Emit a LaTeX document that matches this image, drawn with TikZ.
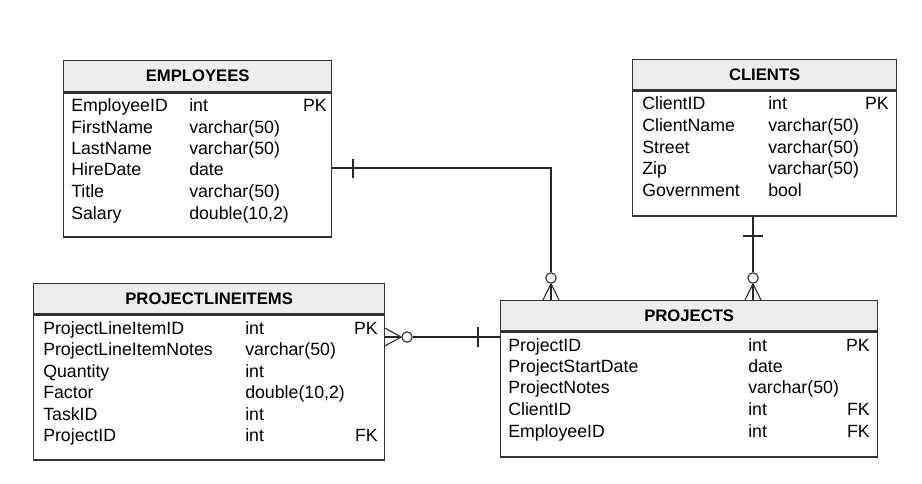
\documentclass[tikz,border=0pt]{standalone}
\usepackage{fontspec}
\setmainfont{Liberation Sans}
\usetikzlibrary{positioning}
\begin{document}
\begin{tikzpicture}[x=0.75pt,y=-0.75pt,
    tabhead/.style={draw=black!80,line width=1pt,fill=black!7,anchor=north west,inner sep=0pt,
      font=\fontsize{12.5}{14}\selectfont\bfseries},
    tabbody/.style={draw=black!80,line width=1pt,fill=white,inner sep=0pt},
    field/.style={anchor=west,inner sep=0pt,text height=9.3pt,text depth=0pt,
      font=\fontsize{13.3}{15}\selectfont},
    key/.style={field,anchor=east},
    rel/.style={line width=0.8pt,black!85},
    zero/.style={circle,draw,line width=0.8pt,black!85,fill=white,minimum size=7.8pt,inner sep=0pt}]
  \useasboundingbox (0,0) rectangle (922,483);

  \node[tabhead,minimum width=201pt,minimum height=23.25pt] (emphead) at (63,60) {EMPLOYEES};
  \node[tabbody,minimum width=201pt,minimum height=108pt,below=0pt of emphead] (emp) {};
  \node[tabhead,minimum width=198pt,minimum height=22.5pt] (clihead) at (632,59) {CLIENTS};
  \node[tabbody,minimum width=198pt,minimum height=93.75pt,below=0pt of clihead] (cli) {};
  \node[tabhead,minimum width=282.75pt,minimum height=22.5pt] (prjhead) at (500,300) {PROJECTS};
  \node[tabbody,minimum width=282.75pt,minimum height=93.75pt,below=0pt of prjhead] (prj) {};
  \node[tabhead,minimum width=263.25pt,minimum height=22.5pt] (plihead) at (33,283) {PROJECTLINEITEMS};
  \node[tabbody,minimum width=263.25pt,minimum height=108.75pt,below=0pt of plihead] (pli) {};

  \node[field] (e1n) at (71,105) {EmployeeID};
  \node[field] (e1t) at (189,105) {int};
  \node[key] (e1k) at (327,105) {PK};
  \node[field] (e2n) at (71,127) {FirstName};
  \node[field] (e2t) at (189,127) {varchar(50)};
  \node[field] (e3n) at (71,148) {LastName};
  \node[field] (e3t) at (189,148) {varchar(50)};
  \node[field] (e4n) at (71,169) {HireDate};
  \node[field] (e4t) at (189,169) {date};
  \node[field] (e5n) at (71,191) {Title};
  \node[field] (e5t) at (189,191) {varchar(50)};
  \node[field] (e6n) at (71,213) {Salary};
  \node[field] (e6t) at (189,213) {double(10,2)};

  \node[field] (c1n) at (642,103) {ClientID};
  \node[field] (c1t) at (768,103) {int};
  \node[key] (c1k) at (889,103) {PK};
  \node[field] (c2n) at (642,125) {ClientName};
  \node[field] (c2t) at (768,125) {varchar(50)};
  \node[field] (c3n) at (642,147) {Street};
  \node[field] (c3t) at (768,147) {varchar(50)};
  \node[field] (c4n) at (642,168) {Zip};
  \node[field] (c4t) at (768,168) {varchar(50)};
  \node[field] (c5n) at (642,190) {Government};
  \node[field] (c5t) at (768,190) {bool};

  \node[field] (p1n) at (508,345) {ProjectID};
  \node[field] (p1t) at (748,345) {int};
  \node[key] (p1k) at (870,345) {PK};
  \node[field] (p2n) at (508,366) {ProjectStartDate};
  \node[field] (p2t) at (748,366) {date};
  \node[field] (p3n) at (508,387) {ProjectNotes};
  \node[field] (p3t) at (748,387) {varchar(50)};
  \node[field] (p4n) at (508,409) {ClientID};
  \node[field] (p4t) at (748,409) {int};
  \node[key] (p4k) at (870,409) {FK};
  \node[field] (p5n) at (508,431) {EmployeeID};
  \node[field] (p5t) at (748,431) {int};
  \node[key] (p5k) at (870,431) {FK};

  \node[field] (l1n) at (43,328) {ProjectLineItemID};
  \node[field] (l1t) at (245,328) {int};
  \node[key] (l1k) at (378,328) {PK};
  \node[field] (l2n) at (43,349) {ProjectLineItemNotes};
  \node[field] (l2t) at (245,349) {varchar(50)};
  \node[field] (l3n) at (43,371) {Quantity};
  \node[field] (l3t) at (245,371) {int};
  \node[field] (l4n) at (43,392) {Factor};
  \node[field] (l4t) at (245,392) {double(10,2)};
  \node[field] (l5n) at (43,414) {TaskID};
  \node[field] (l5t) at (245,414) {int};
  \node[field] (l6n) at (43,435) {ProjectID};
  \node[field] (l6t) at (245,435) {int};
  \node[key] (l6k) at (378,435) {FK};

  \node[zero] (o1) at (551,278) {};
  \node[zero] (o2) at (753,278) {};
  \node[zero] (o3) at (407,337) {};
  \coordinate (a1) at (emphead.north east |- 0,168);
  \coordinate (a3) at (prjhead.south west |- o3);
  \coordinate (f1) at (prjhead.north -| o1);
  \coordinate (f2) at (prjhead.north -| o2);
  \coordinate (f3) at (plihead.south east |- o3);

  \begin{scope}[rel]
    \draw (a1) -| (o1);
    \draw (o1.south) -- (f1);
    \draw (o1.south) -- ([xshift=-6pt]f1);
    \draw (o1.south) -- ([xshift=6pt]f1);
    \draw (353,159) -- (353,178);
    \draw (cli.south -| o2) -- (o2);
    \draw (o2.south) -- (f2);
    \draw (o2.south) -- ([xshift=-6pt]f2);
    \draw (o2.south) -- ([xshift=6pt]f2);
    \draw (743,236) -- (763,236);
    \draw (a3) -- (o3);
    \draw (o3.west) -- (f3);
    \draw (o3.west) -- ([yshift=6.5pt]f3);
    \draw (o3.west) -- ([yshift=-6.5pt]f3);
    \draw (478,327) -- (478,347);
  \end{scope}
\end{tikzpicture}
\end{document}
